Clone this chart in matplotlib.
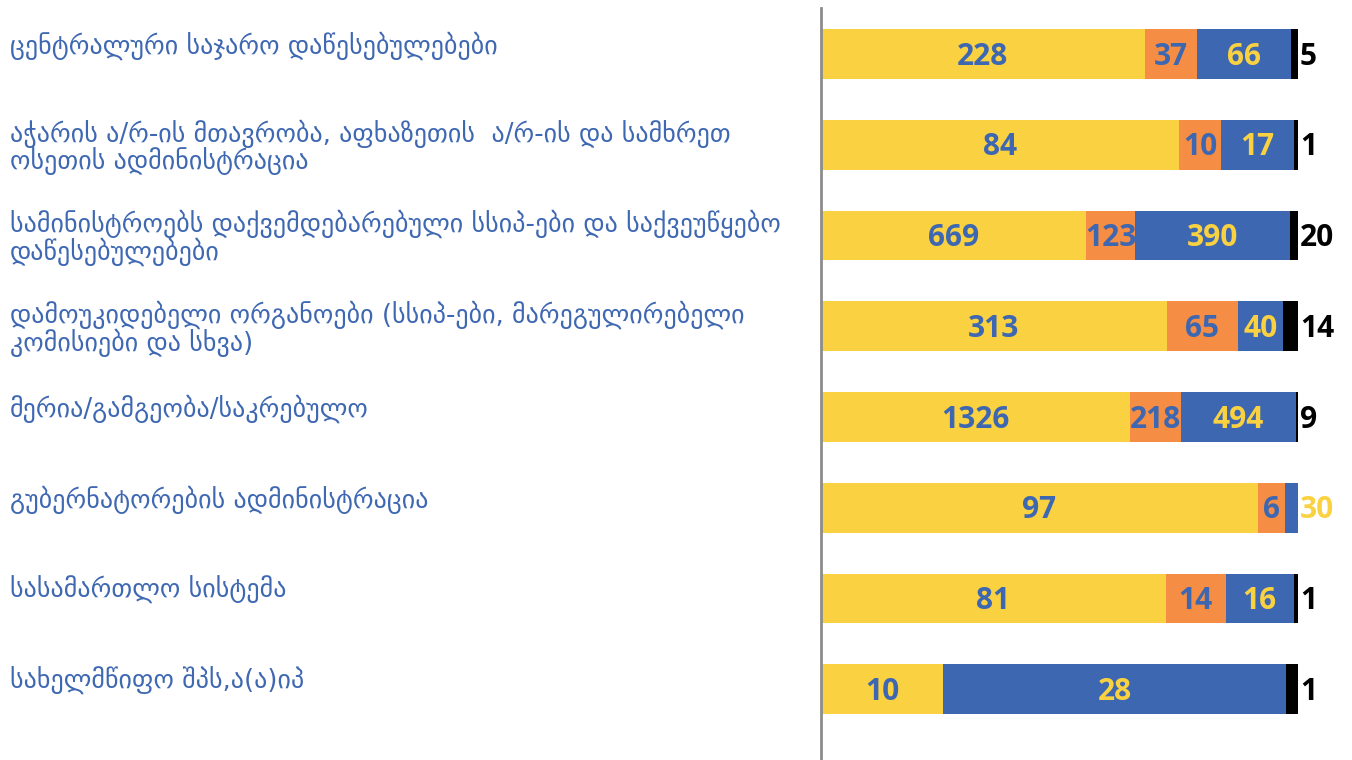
import numpy as np
import matplotlib
matplotlib.use("Agg")
import matplotlib.pyplot as plt
import matplotlib.transforms as mtransforms

categories = [
    "ცენტრალური საჯარო დაწესებულებები",
    "აჭარის ა/რ-ის მთავრობა, აფხაზეთის  ა/რ-ის და სამხრეთ\nოსეთის ადმინისტრაცია",
    "სამინისტროებს დაქვემდებარებული სსიპ-ები და საქვეუწყებო\nდაწესებულებები",
    "დამოუკიდებელი ორგანოები (სსიპ-ები, მარეგულირებელი\nკომისიები და სხვა)",
    "მერია/გამგეობა/საკრებულო",
    "გუბერნატორების ადმინისტრაცია",
    "სასამართლო სისტემა",
    "სახელმწიფო შპს,ა(ა)იპ",
]

yellow = [228, 84, 669, 313, 1326, 97, 81, 10]
orange = [37, 10, 123, 65, 218, 6, 14, 0]
blue = [66, 17, 390, 40, 494, 3, 16, 28]
black = [5, 1, 20, 14, 9, 0, 1, 1]
# label texts as printed on the chart
blue_labels = ["66", "17", "390", "40", "494", "30", "16", "28"]

c_yellow = "#FAD241"
c_orange = "#F58D45"
c_blue = "#3D67B0"
c_black = "#000000"
c_text = "#3F68B2"

W, H = 1352, 760
fig = plt.figure(figsize=(W / 100, H / 100), dpi=100)
ax = fig.add_axes([821 / W, 0, 477 / W, 752 / H])

data = np.array([yellow, orange, blue, black], dtype=float)
totals = data.sum(axis=0)
shares = data / totals
y = np.arange(len(categories))

series = [
    (shares[0], c_yellow, [str(v) for v in yellow], c_blue),
    (shares[1], c_orange, [str(v) for v in orange], c_blue),
    (shares[2], c_blue, blue_labels, c_yellow),
    (shares[3], c_black, [str(v) for v in black], "black"),
]

left = np.zeros(len(categories))
num_font = dict(fontsize=21.5, fontweight="bold", family=["Open Sans", "DejaVu Sans"])
for k, (vals, col, labs, tcol) in enumerate(series):
    ax.barh(y, vals, left=left, height=0.55, color=col, edgecolor="none")
    for i in range(len(categories)):
        raw = data[k, i]
        if raw == 0:
            continue
        if k == 3 or vals[i] < 0.035:
            # narrow pieces get their label just past the end of the bar
            ax.text(left[i] + vals[i] + 0.004, y[i] + 0.03, labs[i], ha="left", va="center",
                    color=tcol, clip_on=False, **num_font)
        else:
            ax.text(left[i] + vals[i] / 2, y[i] + 0.03, labs[i], ha="center", va="center",
                    color=tcol, clip_on=False, **num_font)
    left += vals

ax.set_xlim(0, 1)
ax.set_ylim(7.78, -0.507)
ax.set_xticks([])
ax.set_yticks([])
for s in ["top", "right", "bottom"]:
    ax.spines[s].set_visible(False)
ax.spines["left"].set_color("#8C8C8C")
ax.spines["left"].set_linewidth(2)

trans = mtransforms.blended_transform_factory(fig.transFigure, ax.transData)
for i, lab in enumerate(categories):
    off = 0.03 if "\n" in lab else -0.09
    ax.text(10 / W, y[i] + off, lab, transform=trans, ha="left", va="center",
            fontsize=18.7, color=c_text, linespacing=0.98, clip_on=False,
            family=["DejaVu Sans"])

fig.savefig("out.png", dpi=100)
